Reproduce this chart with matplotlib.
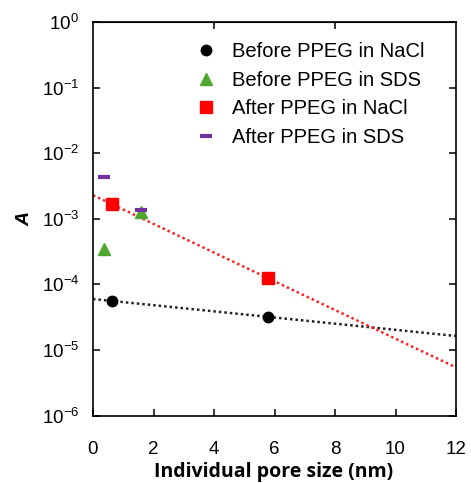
from matplotlib import pyplot as plt
from matplotlib import ticker
import numpy as np

plt.rcParams['font.family'] = ['Liberation Sans', 'DejaVu Sans']
plt.rcParams['mathtext.fontset'] = 'custom'
plt.rcParams['mathtext.rm'] = 'Liberation Sans'

# pore size (nm) and A for each condition
before_nacl_x = [0.62, 5.79]
before_nacl_y = [5.6e-5, 3.2e-5]
before_sds_x = [0.36, 1.59]
before_sds_y = [3.5e-4, 1.25e-3]
after_nacl_x = [0.64, 5.79]
after_nacl_y = [1.66e-3, 1.24e-4]
after_sds_x = [0.36, 1.59]
after_sds_y = [4.3e-3, 1.38e-3]

labels = ["Before PPEG in NaCl", "Before PPEG in SDS",
          "After PPEG in NaCl", "After PPEG in SDS"]
top_ticks = [4, 8]


def exp_fit(x, y, xs):
    """
    Exponential trend line (straight on a log axis).
    """
    k, b = np.polyfit(x, np.log(y), 1)
    return np.exp(b + k * xs)


W, H = 471, 483
fig = plt.figure(figsize=(W / 100, H / 100), dpi=100)
ax = fig.add_axes([93 / W, 1 - 415.6 / H, (456 - 93) / W, (415.6 - 22) / H])

xs = np.linspace(0, 12, 200)
ax.plot(xs, exp_fit(before_nacl_x, before_nacl_y, xs), color='#222222',
        ls=(0, (1, 1.2)), lw=1.8, zorder=1)
ax.plot(xs, exp_fit(after_nacl_x, after_nacl_y, xs), color='#ff2020',
        ls=(0, (1, 1.2)), lw=1.8, zorder=1)

ax.plot(before_nacl_x, before_nacl_y, 'o', color='black', ms=7.5, ls='none', label=labels[0], zorder=3)
ax.plot(before_sds_x, before_sds_y, '^', color='#4ea72e', ms=8.5, ls='none', label=labels[1], zorder=3)
ax.plot(after_nacl_x, after_nacl_y, 's', color='#ff0000', ms=8, ls='none', label=labels[2], zorder=3)
ax.plot(after_sds_x, after_sds_y, '_', color='#7030a0', ms=9, mew=3, ls='none', label=labels[3], zorder=4)

ax.set_yscale('log')
ax.set_xlim(0, 12)
ax.set_ylim(1e-6, 1)
ax.xaxis.set_major_locator(ticker.MultipleLocator(2))
ax.yaxis.set_major_locator(ticker.LogLocator(base=10, numticks=10))
ax.yaxis.set_minor_locator(ticker.NullLocator())

ax.tick_params(axis='both', direction='in', length=5, width=1.1, labelsize=13.5)
ax.tick_params(axis='x', pad=18)
ax.tick_params(axis='y', pad=10, right=True)
for s in ax.spines.values():
    s.set_linewidth(1.2)

# top ticks only at 4 and 8
top = ax.secondary_xaxis('top')
top.set_xticks(top_ticks)
top.set_xticklabels([])
top.tick_params(direction='in', length=5, width=1.1)

ax.set_xlabel("Individual pore size (nm)", fontsize=14, fontweight='bold',
              family=['Open Sans', 'DejaVu Sans'], va='baseline')
ax.xaxis.set_label_coords(273.5 / W, 1 - 477 / H, transform=fig.transFigure)
ax.set_ylabel("A", fontsize=14, fontweight='bold', style='italic', labelpad=6)

ax.legend(loc='upper left', frameon=False, fontsize=14.5, handletextpad=0.8,
          labelspacing=0.48, borderaxespad=0, borderpad=0, handlelength=1.0,
          bbox_to_anchor=((196 - 93) / (456 - 93), 1 - 20 / 393.6))

fig.savefig("out.png", dpi=100)
